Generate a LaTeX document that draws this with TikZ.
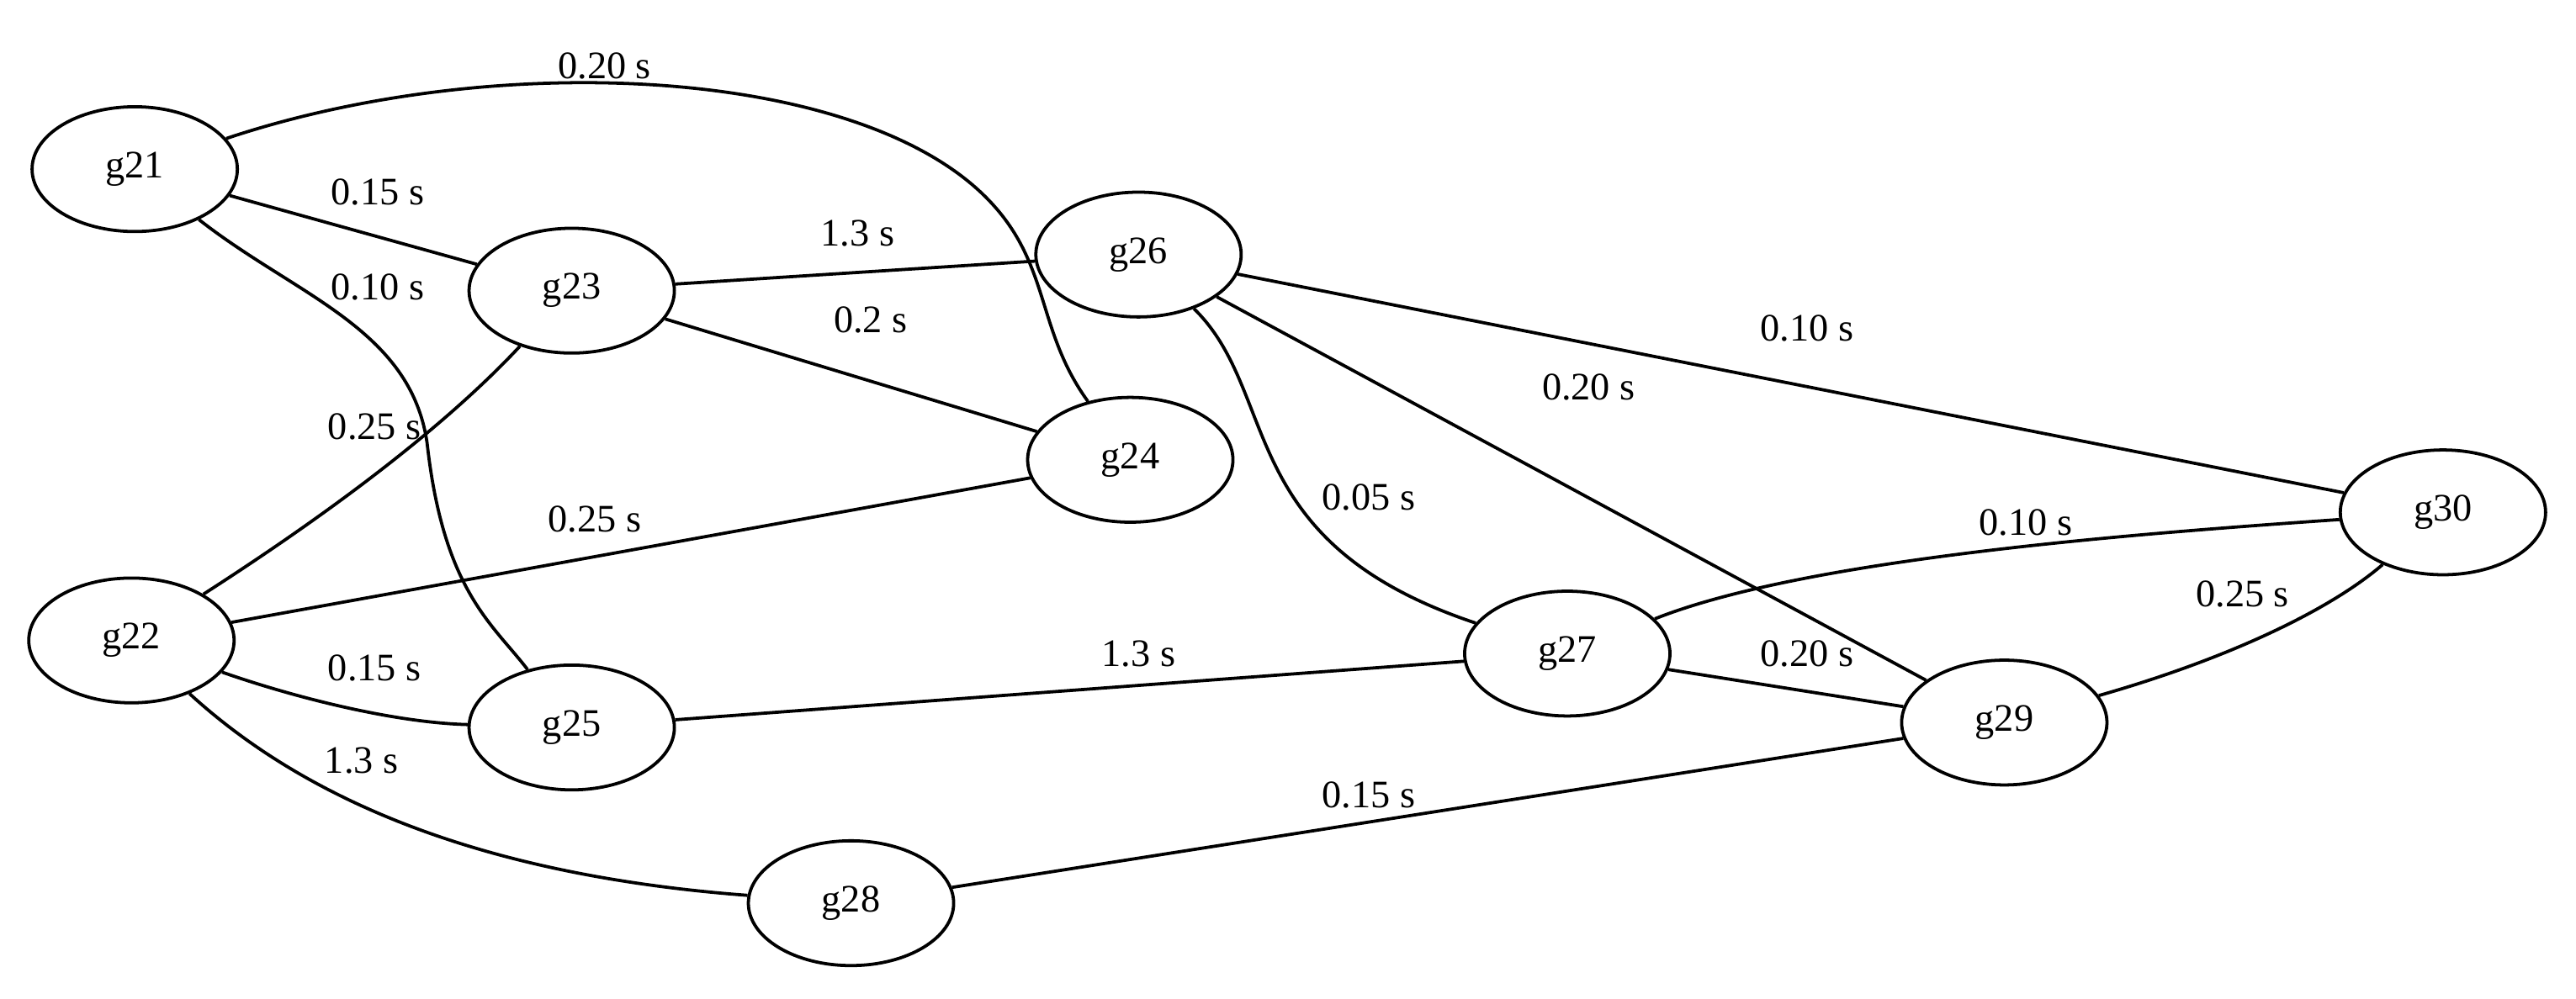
\documentclass[tikz,border=0pt]{standalone}
\usepackage{fontspec}
\setmainfont{Liberation Serif}
\usetikzlibrary{shapes.geometric}
\begin{document}
\begin{tikzpicture}[x=0.02cm,y=-0.02cm,
  gn/.style={draw,line width=1.1pt,ellipse,minimum width=2.5cm,minimum height=1.52cm,inner sep=0pt,font=\fontsize{13.5}{15}\selectfont},
  lab/.style={font=\fontsize{13.5}{15}\selectfont,inner sep=1pt},
  ed/.style={line width=1.1pt}]
\useasboundingbox (0,0) rectangle (1568,608);
\node[gn] (g21) at (82,103) {g21};
\node[gn] (g23) at (348,177) {g23};
\node[gn] (g26) at (693,155) {g26};
\node[gn] (g24) at (688,280) {g24};
\node[gn] (g22) at (80,390) {g22};
\node[gn] (g25) at (348,443) {g25};
\node[gn] (g27) at (954,398) {g27};
\node[gn] (g28) at (518,550) {g28};
\node[gn] (g29) at (1220,440) {g29};
\node[gn] (g30) at (1487,312) {g30};
\draw[ed] (g21) .. controls (300,30) and (520,40) .. (600,120) .. controls (640,160) and (630,200) .. (g24);
\draw[ed] (g21) -- (g23);
\draw[ed] (g21) .. controls (180,180) and (250,200) .. (260,270) .. controls (270,360) and (300,380) .. (g25);
\draw[ed] (g22) .. controls (220,300) and (280,250) .. (g23);
\draw[ed] (g23) -- (g26);
\draw[ed] (g23) -- (g24);
\draw[ed] (g22) -- (g24);
\draw[ed] (g22) .. controls (180,425) and (240,440) .. (g25);
\draw[ed] (g22) .. controls (200,500) and (320,535) .. (g28);
\draw[ed] (g26) -- (g30);
\draw[ed] (g26) -- (g29);
\draw[ed] (g26) .. controls (780,240) and (750,330) .. (g27);
\draw[ed] (g25) -- (g27);
\draw[ed] (g27) .. controls (1100,340) and (1300,325) .. (g30);
\draw[ed] (g27) -- (g29);
\draw[ed] (g29) .. controls (1360,400) and (1420,370) .. (g30);
\draw[ed] (g28) -- (g29);
\node[lab] (l1) at (368,40) {0.20 s};
\node[lab] (l2) at (230,117) {0.15 s};
\node[lab] (l3) at (230,175) {0.10 s};
\node[lab] (l4) at (228,260) {0.25 s};
\node[lab] (l5) at (522,142) {1.3 s};
\node[lab] (l6) at (530,195) {0.2 s};
\node[lab] (l7) at (362,316) {0.25 s};
\node[lab] (l8) at (228,407) {0.15 s};
\node[lab] (l9) at (220,463) {1.3 s};
\node[lab] (l10) at (1100,200) {0.10 s};
\node[lab] (l11) at (967,236) {0.20 s};
\node[lab] (l12) at (833,303) {0.05 s};
\node[lab] (l13) at (693,398) {1.3 s};
\node[lab] (l14) at (1233,318) {0.10 s};
\node[lab] (l15) at (1100,398) {0.20 s};
\node[lab] (l16) at (1365,362) {0.25 s};
\node[lab] (l17) at (833,484) {0.15 s};
\end{tikzpicture}
\end{document}
